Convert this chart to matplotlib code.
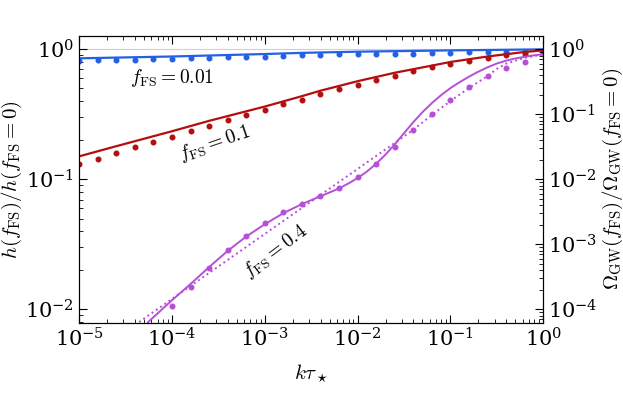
import numpy as np
import matplotlib
matplotlib.use('Agg')
import matplotlib.pyplot as plt

plt.rcParams['mathtext.fontset'] = 'cm'
plt.rcParams['font.family'] = 'serif'
plt.rcParams['font.serif'] = ['DejaVu Serif']

# log10 of k*tau for the dots
x_dots = np.round(np.arange(-5.0, 0.01, 0.2), 1)
x_purple_dots = np.round(np.arange(-4.0, -0.19, 0.2), 1)

# log10 of h ratio
blue_dots = [-0.087, -0.085, -0.082, -0.079, -0.077, -0.072, -0.069, -0.066, -0.062,
             -0.058, -0.056, -0.051, -0.046, -0.041, -0.038, -0.038, -0.035, -0.033,
             -0.033, -0.028, -0.025, -0.023, -0.023, -0.020, -0.018, -0.015]
red_dots = [-0.882, -0.841, -0.795, -0.751, -0.710, -0.672, -0.628, -0.587, -0.546,
            -0.505, -0.467, -0.423, -0.387, -0.346, -0.308, -0.274, -0.238, -0.204,
            -0.167, -0.137, -0.110, -0.088, -0.064, -0.043, -0.033, -0.020]
purple_dots = [-1.972, -1.828, -1.685, -1.546, -1.438, -1.335, -1.254, -1.189, -1.125,
               -1.064, -0.982, -0.879, -0.751, -0.618, -0.497, -0.387, -0.289, -0.205,
               -0.146, -0.097]

blue_x = [-5.0, -4.0, -3.0, -2.6, -2.0, -1.0, 0.0]
blue_y = [-0.069, -0.055, -0.036, -0.027, -0.018, -0.008, 0.0]

red_x = [-5.0, -4.6, -4.0, -3.6, -3.0, -2.6, -2.4, -2.0, -1.6, -1.2, -1.0, -0.6, -0.2, 0.0]
red_y = [-0.823, -0.745, -0.630, -0.550, -0.440, -0.360, -0.318, -0.245, -0.180, -0.125,
         -0.097, -0.055, -0.020, -0.008]

purple_x = [-4.26, -4.1, -4.0, -3.8, -3.6, -3.4, -3.2, -3.0, -2.8, -2.6, -2.4, -2.2, -2.1,
            -2.0, -1.9, -1.8, -1.7, -1.6, -1.5, -1.4, -1.3, -1.2, -1.1, -1.0, -0.9, -0.8,
            -0.7, -0.6, -0.5, -0.4, -0.3, -0.2, -0.1, 0.0]
purple_y = [-2.10, -1.995, -1.93, -1.805, -1.675, -1.55, -1.44, -1.345, -1.26, -1.19, -1.13,
            -1.07, -1.032, -0.99, -0.94, -0.88, -0.81, -0.73, -0.645, -0.56, -0.482, -0.413,
            -0.352, -0.298, -0.252, -0.21, -0.172, -0.138, -0.109, -0.087, -0.07, -0.057,
            -0.046, -0.038]

fit_x = [-4.4, -3.8, -3.2, -2.6, -2.0, -1.6, -1.4, -1.2, -1.0, -0.8, -0.6, -0.5, -0.4,
         -0.2, 0.0]
fit_y = [-2.12, -1.82, -1.52, -1.22, -0.92, -0.72, -0.618, -0.505, -0.397, -0.298, -0.205,
         -0.15, -0.11, -0.065, -0.040]

c_blue = '#2460e6'
c_red = '#b30f0f'
c_purple = '#b64fd8'

fig = plt.figure(figsize=(6.23, 3.94), dpi=100)
ax = fig.add_axes([0.127, 0.181, 0.745, 0.728])

p = lambda v: 10 ** np.asarray(v)

ax.axhline(1.0, color='#d0d0d0', lw=0.8, zorder=0)
ax.plot(p(blue_x), p(blue_y), color=c_blue, lw=1.6)
ax.plot(p(x_dots), p(blue_dots), 'o', color=c_blue, ms=3.3)
ax.plot(p(red_x), p(red_y), color=c_red, lw=1.6)
ax.plot(p(x_dots), p(red_dots), 'o', color=c_red, ms=3.3)
ax.plot(p(purple_x), p(purple_y), color=c_purple, lw=1.4)
ax.plot(p(fit_x), p(fit_y), ':', color=c_purple, lw=1.4)
ax.plot(p(x_purple_dots), p(purple_dots), 'o', color=c_purple, ms=3.3)

ax.set_xscale('log')
ax.set_yscale('log')
ax.set_xlim(1e-5, 1)
ylo, yhi = 7.9e-3, 1.27
ax.set_ylim(ylo, yhi)
ax.set_xlabel(r'$k\tau_\star$', fontsize=15, labelpad=9)
ax.set_ylabel(r'$h(f_{\rm FS})/h(f_{\rm FS}=0)$', fontsize=15, labelpad=1)
ax.tick_params(which='both', direction='in', top=True, right=False, labelsize=15)
ax.tick_params(which='major', length=6)
ax.tick_params(which='minor', length=3)
ax.xaxis.set_minor_locator(matplotlib.ticker.LogLocator(base=10, subs=np.arange(2, 10), numticks=20))

ax2 = ax.twinx()
ax2.set_yscale('log')
ax2.set_ylim(ylo ** 2, yhi ** 2)
ax2.set_ylabel(r'$\Omega_{\rm GW}(f_{\rm FS})/\Omega_{\rm GW}(f_{\rm FS}=0)$', fontsize=15,
               labelpad=2)
ax2.tick_params(which='both', direction='in', labelsize=15)
ax2.tick_params(which='major', length=6)
ax2.tick_params(which='minor', length=3)

ax.text(1.0e-4, 0.6, r'$f_{\rm FS}=0.01$', fontsize=14, ha='center', va='center')
ax.text(2.9e-4, 0.19, r'$f_{\rm FS}=0.1$', fontsize=14, ha='center', va='center',
        rotation=19)
ax.text(1.3e-3, 0.028, r'$f_{\rm FS}=0.4$', fontsize=14, ha='center', va='center',
        rotation=37)

fig.savefig('out.png', dpi=100)
